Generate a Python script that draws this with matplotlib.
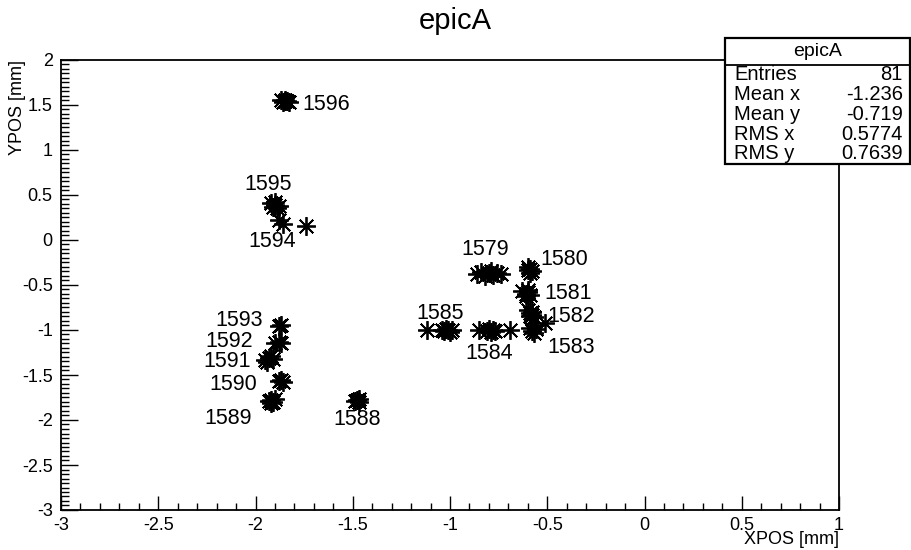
import numpy as np
import matplotlib
matplotlib.use('Agg')
import matplotlib.pyplot as plt
from matplotlib.patches import Rectangle
from matplotlib.lines import Line2D
from matplotlib.ticker import MultipleLocator

plt.rcParams['font.family'] = ['Liberation Sans', 'DejaVu Sans']

# beam spot positions per run
run = ([1596] * 6 + [1595] * 6 + [1594] * 3 + [1579] * 8 + [1580] * 5 + [1581] * 6
       + [1582] * 7 + [1583] * 4 + [1584] * 7 + [1585] * 7 + [1593] * 2 + [1592] * 3
       + [1591] * 5 + [1590] * 3 + [1589] * 5 + [1588] * 4)
xpos = [-1.87, -1.86, -1.85, -1.85, -1.84, -1.83,
        -1.92, -1.91, -1.90, -1.89, -1.88, -1.90,
        -1.88, -1.86, -1.74,
        -0.86, -0.84, -0.82, -0.80, -0.79, -0.78, -0.76, -0.74,
        -0.60, -0.59, -0.58, -0.59, -0.60,
        -0.63, -0.61, -0.60, -0.59, -0.61, -0.60,
        -0.60, -0.59, -0.58, -0.57, -0.59, -0.58, -0.51,
        -0.59, -0.58, -0.57, -0.56,
        -0.85, -0.81, -0.80, -0.79, -0.78, -0.77, -0.69,
        -1.12, -1.04, -1.03, -1.02, -1.01, -1.00, -0.99,
        -1.88, -1.87,
        -1.90, -1.88, -1.87,
        -1.95, -1.94, -1.93, -1.92, -1.91,
        -1.88, -1.87, -1.86,
        -1.93, -1.92, -1.91, -1.90, -1.92,
        -1.48, -1.47, -1.49, -1.47]
ypos = [1.55, 1.53, 1.54, 1.56, 1.54, 1.53,
        0.41, 0.37, 0.39, 0.35, 0.38, 0.42,
        0.22, 0.18, 0.15,
        -0.38, -0.36, -0.40, -0.37, -0.35, -0.39, -0.37, -0.38,
        -0.30, -0.32, -0.35, -0.37, -0.33,
        -0.57, -0.60, -0.58, -0.61, -0.62, -0.56,
        -0.78, -0.81, -0.83, -0.86, -0.85, -0.80, -0.92,
        -0.98, -1.01, -1.03, -0.99,
        -1.00, -1.01, -0.99, -1.02, -1.00, -1.01, -1.00,
        -1.00, -1.00, -1.01, -0.99, -1.00, -1.02, -1.00,
        -0.96, -0.95,
        -1.14, -1.13, -1.15,
        -1.33, -1.35, -1.31, -1.29, -1.32,
        -1.57, -1.56, -1.58,
        -1.79, -1.78, -1.80, -1.77, -1.81,
        -1.78, -1.77, -1.79, -1.80]

stat_names = ['Entries', 'Mean x', 'Mean y', 'RMS x', 'RMS y']
stat_values = ['81', '-1.236', '-0.719', '0.5774', '0.7639']

# where each run number sits relative to its cluster (pixels)
label_offset = {1596: (42, -3), 1595: (-7, 21), 1594: (-17, -18), 1579: (-4, 24),
                1580: (35, 11), 1581: (42, 0), 1582: (38, -1), 1583: (38, -17),
                1584: (-3, -23), 1585: (-4, 17), 1593: (-41, 5), 1592: (-49, 1),
                1591: (-42, -3), 1590: (-48, -3), 1589: (-44, -17), 1588: (0, -19)}

W, H = 912, 550
fig = plt.figure(figsize=(W / 100, H / 100), dpi=100)
ax = fig.add_axes([61 / W, 1 - 510 / H, (839 - 61) / W, (510 - 60) / H])

run = np.array(run)
xpos = np.array(xpos)
ypos = np.array(ypos)
ax.plot(xpos, ypos, linestyle='none', marker=(8, 2, 0), markersize=13.5,
        markeredgewidth=1.3, color='black')

for r in np.unique(run):
    sel = run == r
    ax.annotate(str(r), xy=(xpos[sel].mean(), ypos[sel].mean()),
                xytext=label_offset[r], textcoords='offset pixels',
                ha='center', va='center', fontsize=15.5)

ax.set_xlim(-3, 1)
ax.set_ylim(-3, 2)
ax.xaxis.set_major_locator(MultipleLocator(0.5))
ax.xaxis.set_minor_locator(MultipleLocator(0.1))
ax.yaxis.set_major_locator(MultipleLocator(0.5))
ax.yaxis.set_minor_locator(MultipleLocator(0.05))
ax.xaxis.set_major_formatter(lambda v, p: f'{v:g}')
ax.yaxis.set_major_formatter(lambda v, p: f'{v:g}')
ax.tick_params(direction='in', which='both', top=False, right=False,
               labelsize=13, width=1, color='black')
ax.tick_params(axis='x', which='major', length=10, pad=5)
ax.tick_params(axis='x', which='minor', length=5)
ax.tick_params(axis='y', which='major', length=12, pad=6)
ax.tick_params(axis='y', which='minor', length=6)
for s in ax.spines.values():
    s.set_linewidth(1.3)

fig.text(839 / W, 1 - 540 / H, 'XPOS [mm]', ha='right', va='center', fontsize=13)
fig.text(18 / W, 1 - 60 / H, 'YPOS [mm]', ha='center', va='top',
         rotation=90, fontsize=13)
fig.text(455 / W, 1 - 21 / H, 'epicA', ha='center', va='center', fontsize=21)

# statistics box
bx0, by0, bx1, by1 = 725, 38, 910, 164
fig.patches.append(Rectangle((bx0 / W, 1 - by1 / H), (bx1 - bx0) / W, (by1 - by0) / H,
                             transform=fig.transFigure, facecolor='white',
                             edgecolor='black', linewidth=1.6, zorder=5))
fig.lines.append(Line2D([bx0 / W, bx1 / W], [1 - 65 / H, 1 - 65 / H],
                        transform=fig.transFigure, color='black', linewidth=1.3,
                        zorder=6))
fig.text((bx0 + bx1) / 2 / W, 1 - 52 / H, 'epicA', ha='center', va='center',
         fontsize=14, zorder=7)
for i, (name, val) in enumerate(zip(stat_names, stat_values)):
    yy = 1 - (75 + i * 19.7) / H
    fig.text(734 / W, yy, name, ha='left', va='center', fontsize=14.5, zorder=7)
    fig.text(903 / W, yy, val, ha='right', va='center', fontsize=14.5, zorder=7)

fig.savefig('out.png', dpi=100)
